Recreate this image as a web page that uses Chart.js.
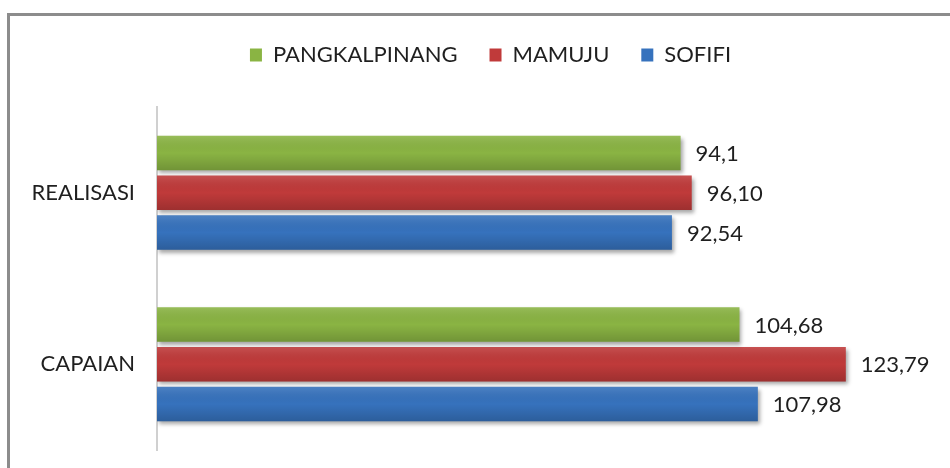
<!DOCTYPE html>
<html>
<head>
<meta charset="utf-8">
<script src="https://cdn.jsdelivr.net/npm/chart.js@4/dist/chart.umd.min.js"></script>
<style>
    body { margin: 0; background: #ffffff; overflow: hidden; }
    #bingkai {
        position: absolute; left: 7px; top: 13px; width: 943px; height: 455px;
        border-top: 3px solid #8c8c8c; border-left: 3px solid #8c8c8c;
    }
    canvas { position: absolute; left: 0; top: 0; }
</style>
</head>
<body>
<div id="bingkai"></div>
<canvas id="grafik" width="950" height="468"></canvas>
<script>
// Kategori dan nilai seperti tertulis di gambar (koma desimal)
const kategori = ["REALISASI", "CAPAIAN"];
const nilaiPangkalpinang = ["94,1", "104,68"];
const nilaiMamuju = ["96,10", "123,79"];
const nilaiSofifi = ["92,54", "107,98"];

const keAngka = (teks) => parseFloat(teks.replace(",", "."));

// Bayangan batang + gradasi + label nilai
const efekBatang = {
    id: 'efekBatang',
    beforeDraw(chart) {
        // geser legenda sedikit ke kanan seperti aslinya
        chart.legend.left += 19;
        chart.legend.right += 19;
    },
    beforeDatasetsDraw(chart) {
        const ctx = chart.ctx;
        ctx.save();
        ctx.shadowColor = 'rgba(0,0,0,0.35)';
        ctx.shadowBlur = 4;
        ctx.shadowOffsetX = 2;
        ctx.shadowOffsetY = 3;
    },
    afterDatasetsDraw(chart) {
        const ctx = chart.ctx;
        ctx.restore();
        chart.data.datasets.forEach((ds, i) => {
            const meta = chart.getDatasetMeta(i);
            meta.data.forEach((bar, j) => {
                const atas = bar.y - bar.height / 2;
                const grad = ctx.createLinearGradient(0, atas, 0, atas + bar.height);
                grad.addColorStop(0, 'rgba(255,255,255,0.12)');
                grad.addColorStop(0.5, 'rgba(0,0,0,0)');
                grad.addColorStop(1, 'rgba(0,0,0,0.18)');
                ctx.fillStyle = grad;
                ctx.fillRect(bar.base, atas, bar.x - bar.base, bar.height);

                ctx.fillStyle = '#1f1f1f';
                ctx.font = '22px Lato';
                ctx.textBaseline = 'middle';
                ctx.textAlign = 'left';
                ctx.fillText(ds.teks[j], bar.x + 15, bar.y + 1);
            });
        });
    }
};

// Tambah jarak di bawah legenda
const jarakLegenda = {
    id: 'jarakLegenda',
    beforeInit(chart) {
        const fitAsli = chart.legend.fit;
        chart.legend.fit = function () {
            fitAsli.bind(chart.legend)();
            this.height = 95;
        };
    }
};

var ctx = document.getElementById('grafik');

var grafik = new Chart(ctx, {
    type: 'bar',
    data: {
        labels: kategori,
        datasets: [{
            label: 'PANGKALPINANG',
            data: nilaiPangkalpinang.map(keAngka),
            teks: nilaiPangkalpinang,
            backgroundColor: '#8ab443'
        }, {
            label: 'MAMUJU',
            data: nilaiMamuju.map(keAngka),
            teks: nilaiMamuju,
            backgroundColor: '#c03a3a'
        }, {
            label: 'SOFIFI',
            data: nilaiSofifi.map(keAngka),
            teks: nilaiSofifi,
            backgroundColor: '#3672bd'
        }]
    },
    options: {
        indexAxis: 'y',
        responsive: false,
        animation: false,
        categoryPercentage: 0.696,
        barPercentage: 0.867,
        layout: { padding: { top: 12, left: 7, right: 14, bottom: 18 } },
        plugins: {
            tooltip: { enabled: false },
            legend: {
                position: 'top',
                labels: {
                    boxWidth: 12,
                    boxHeight: 13,
                    padding: 32,
                    color: '#1f1f1f',
                    font: { family: 'Lato', size: 22 }
                }
            }
        },
        scales: {
            x: { display: false, min: 0, max: 140 },
            y: {
                grid: { display: false, drawTicks: false },
                border: { display: true, color: '#d0d0d0', width: 2 },
                ticks: {
                    padding: 22,
                    color: '#1f1f1f',
                    font: { family: 'Lato', size: 22 }
                },
                afterFit(scale) {
                    scale.width = 150;
                    scale.paddingTop = 0;
                    scale.paddingBottom = 0;
                }
            }
        }
    },
    plugins: [efekBatang, jarakLegenda]
});
</script>
</body>
</html>
